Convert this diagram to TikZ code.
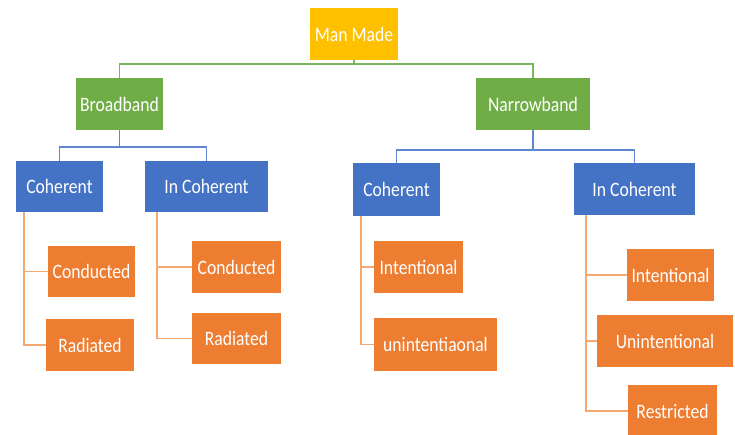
\documentclass[tikz,border=0pt]{standalone}
\usepackage{fontspec}
\setmainfont{Carlito}
\definecolor{cYel}{HTML}{FFC000}
\definecolor{cGrn}{HTML}{70AD47}
\definecolor{cBlu}{HTML}{4472C4}
\definecolor{cOra}{HTML}{ED7D31}
\definecolor{lGrn}{HTML}{7DB65A}
\definecolor{lBlu}{HTML}{5F86CE}
\definecolor{lOra}{HTML}{F5A872}
\newcommand\lbl[1]{\scalebox{0.86}[1]{#1}}
\begin{document}
\begin{tikzpicture}[x=1pt,y=-1pt,
  box/.style={inner sep=0pt, text=white, font=\fontsize{20.5}{22}\selectfont},
  yelbox/.style={box, fill=cYel},
  grnbox/.style={box, fill=cGrn},
  blubox/.style={box, fill=cBlu},
  orabox/.style={box, fill=cOra},
  gline/.style={draw=lGrn, line width=1.4pt},
  bline/.style={draw=lBlu, line width=1.4pt},
  oline/.style={draw=lOra, line width=1.4pt}]
\useasboundingbox (0,0) rectangle (735,435);
% level 0
\node[yelbox, minimum width=88pt, minimum height=52pt] (mm) at (354,34) {\lbl{Man Made}};
% level 1
\node[grnbox, minimum width=87pt, minimum height=52pt] (bb) at (119.5,104) {\lbl{Broadband}};
\node[grnbox, minimum width=114pt, minimum height=52pt] (nb) at (533,104) {\lbl{Narrowband}};
% level 2
\node[blubox, minimum width=87pt, minimum height=51pt] (c1) at (59.5,186.5) {\lbl{Coherent}};
\node[blubox, minimum width=123pt, minimum height=51pt] (i1) at (206.5,186.5) {\lbl{In Coherent}};
\node[blubox, minimum width=87pt, minimum height=53pt] (c2) at (396.5,189.5) {\lbl{Coherent}};
\node[blubox, minimum width=121pt, minimum height=52pt] (i2) at (634.5,189) {\lbl{In Coherent}};
% level 3
\node[orabox, minimum width=87pt, minimum height=51pt] (cd1) at (91.5,271.5) {\lbl{Conducted}};
\node[orabox, minimum width=88pt, minimum height=52pt] (rd1) at (90,345) {\lbl{Radiated}};
\node[orabox, minimum width=89pt, minimum height=52pt] (cd2) at (236.5,267) {\lbl{Conducted}};
\node[orabox, minimum width=89pt, minimum height=51pt] (rd2) at (236.5,338.5) {\lbl{Radiated}};
\node[orabox, minimum width=89pt, minimum height=52pt] (in1) at (418.5,267) {\lbl{Intentional}};
\node[orabox, minimum width=123pt, minimum height=53pt] (un1) at (435.5,344.5) {\lbl{unintentiaonal}};
\node[orabox, minimum width=87pt, minimum height=52pt] (in2) at (670.5,275) {\lbl{Intentional}};
\node[orabox, minimum width=136pt, minimum height=52pt] (un2) at (665,341) {\lbl{Unintentional}};
\node[orabox, minimum width=89pt, minimum height=52pt] (rs2) at (672.5,411) {\lbl{Restricted}};
% connectors level 0-1
\coordinate (g) at (354,64);
\draw[gline] (mm.south) -- (g);
\draw[gline] (g) -| (bb.north);
\draw[gline] (g) -| (nb.north);
% level 1-2
\coordinate (b1) at (119.5,147);
\draw[bline] (bb.south) -- (b1);
\draw[bline] (b1) -| (c1.north);
\draw[bline] (b1) -| (i1.north);
\coordinate (b2) at (533,150);
\draw[bline] (nb.south) -- (b2);
\draw[bline] (b2) -| (c2.north);
\draw[bline] (b2) -| (i2.north);
% level 2-3
\draw[oline] ([xshift=8pt]c1.south west) |- (cd1.west);
\draw[oline] ([xshift=8pt]c1.south west) |- (rd1.west);
\draw[oline] ([xshift=12pt]i1.south west) |- (cd2.west);
\draw[oline] ([xshift=12pt]i1.south west) |- (rd2.west);
\draw[oline] ([xshift=8pt]c2.south west) |- (in1.west);
\draw[oline] ([xshift=8pt]c2.south west) |- (un1.west);
\draw[oline] ([xshift=12pt]i2.south west) |- (in2.west);
\draw[oline] ([xshift=12pt]i2.south west) |- (un2.west);
\draw[oline] ([xshift=12pt]i2.south west) |- (rs2.west);
\end{tikzpicture}
\end{document}
